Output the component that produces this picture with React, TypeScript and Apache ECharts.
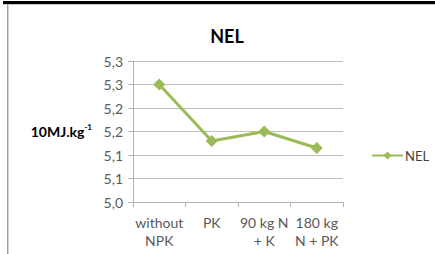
import React, { useEffect, useRef } from "react";
import * as echarts from "echarts";

const categories = ["without\nNPK", "PK", "90 kg N\n+ K", "180 kg\nN + PK"];
const nelValues = [5.25, 5.13, 5.15, 5.115];
const yTickLabels = ["5,0", "5,1", "5,1", "5,2", "5,2", "5,3", "5,3"];
const yMin = 5.0;
const yMax = 5.3;
const yInterval = 0.05;
const seriesName = "NEL";
const titleText = "NEL";

const FONT = "Lato, 'Open Sans', sans-serif";

export default function App() {
  const ref = useRef<HTMLDivElement>(null);
  useEffect(() => {
    document.body.style.margin = "0";
    if (!ref.current) return;
    const chart = echarts.init(ref.current, undefined, { renderer: "svg" });
    chart.setOption({
      animation: false,
      backgroundColor: "#ffffff",
      title: {
        text: titleText,
        left: 222,
        top: 22,
        textAlign: "center",
        textStyle: { fontFamily: FONT, fontSize: 18, fontWeight: "bold", color: "#000" },
      },
      legend: {
        left: 366,
        top: 144,
        itemWidth: 31,
        itemHeight: 10,
        itemGap: 2,
        textStyle: { fontFamily: FONT, fontSize: 13, color: "#404040", padding: [0, 0, 0, -3] },
        data: [seriesName],
      },
      grid: { left: 133, right: 92, top: 61, bottom: 52, containLabel: false },
      xAxis: {
        type: "category",
        data: categories,
        boundaryGap: true,
        axisLine: { lineStyle: { color: "#B3B3B3", width: 1 } },
        axisTick: { show: true, length: 5, lineStyle: { color: "#B3B3B3" } },
        axisLabel: {
          fontFamily: FONT,
          fontSize: 14,
          color: "#595959",
          lineHeight: 18,
          margin: 11,
          interval: 0,
        },
      },
      yAxis: {
        type: "value",
        min: yMin,
        max: yMax,
        interval: yInterval,
        axisLine: { show: true, lineStyle: { color: "#B3B3B3", width: 1 } },
        axisTick: { show: true, length: 5, lineStyle: { color: "#B3B3B3" } },
        splitLine: { show: true, lineStyle: { color: "#BFBFBF", width: 1 } },
        axisLabel: {
          fontFamily: FONT,
          fontSize: 14,
          color: "#595959",
          margin: 10,
          formatter: (v: number) => yTickLabels[Math.round((v - yMin) / yInterval)] ?? "",
        },
      },
      series: [
        {
          name: seriesName,
          type: "line",
          data: nelValues,
          symbol: "diamond",
          symbolSize: 12,
          itemStyle: { color: "#9BBB59" },
          lineStyle: { color: "#9BBB59", width: 3 },
        },
      ],
      graphic: [
        { type: "rect", shape: { x: 3, y: 1, width: 432, height: 3 }, style: { fill: "#000" } },
        { type: "rect", shape: { x: 3, y: 4, width: 432, height: 1 }, style: { fill: "#C8C8C8" } },
        { type: "rect", shape: { x: 7, y: 4, width: 1, height: 250 }, style: { fill: "#A0A0A0" } },
        { type: "rect", shape: { x: 8, y: 5, width: 1, height: 249 }, style: { fill: "#D6D6D6" } },
        {
          type: "text",
          x: 92,
          y: 131,
          style: {
            text: "{a|10MJ.kg}{b|-1}",
            align: "right",
            verticalAlign: "middle",
            rich: {
              a: { fontFamily: FONT, fontSize: 14, fontWeight: "bold", fill: "#000", lineHeight: 16 },
              b: { fontFamily: FONT, fontSize: 8, fontWeight: "bold", fill: "#000", verticalAlign: "top", lineHeight: 10 },
            },
          },
        },
      ],
    });
    return () => chart.dispose();
  }, []);
  return <div ref={ref} style={{ width: 435, height: 254 }} />;
}
